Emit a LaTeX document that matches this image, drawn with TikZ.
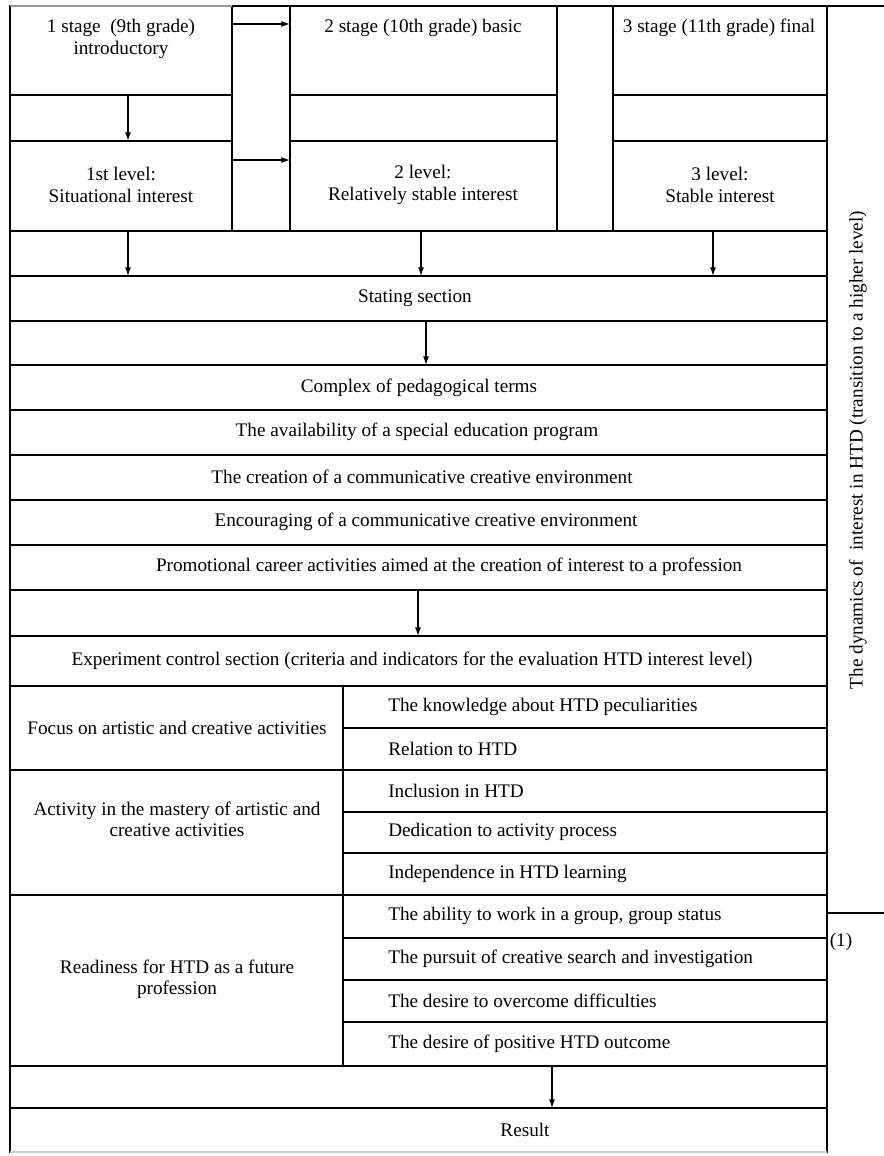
\documentclass[tikz,border=0pt]{standalone}
\usepackage{fontspec}
\setmainfont{Liberation Serif}
\usetikzlibrary{arrows.meta}
\newcommand\mkcell[5]{%
  \pgfmathsetmacro\cw{(#4-#2)*0.75}%
  \pgfmathsetmacro\chh{(#5-#3)*0.75}%
  \node[cellst,minimum width=\cw pt,minimum height=\chh pt] (#1) at ({(#2+#4)/2},{(#3+#5)/2}) {};}
\begin{document}
\begin{tikzpicture}[x=0.75pt,y=-0.75pt,
  cellst/.style={draw=black,line width=1.1pt,inner sep=0pt,outer sep=0pt,rectangle},
  txt/.style={inner sep=0pt,font=\fontsize{14.4}{15.9}\selectfont,align=center},
  ltxt/.style={inner sep=0pt,font=\fontsize{14.4}{15.9}\selectfont,anchor=west},
  arr/.style={line width=0.9pt,-{Latex[length=6.5pt,width=4.5pt]}}]
\useasboundingbox (0,0) rectangle (884,1156);
% top block
\mkcell{sA}{10}{6}{232}{95}
\mkcell{eA}{10}{95}{232}{141}
\mkcell{lA}{10}{141}{232}{231}
\mkcell{gA}{232}{6}{290}{231}
\mkcell{sB}{290}{6}{557}{95}
\mkcell{eB}{290}{95}{557}{141}
\mkcell{lB}{290}{141}{557}{231}
\mkcell{gB}{557}{6}{613}{231}
\mkcell{sC}{613}{6}{827}{95}
\mkcell{eC}{613}{95}{827}{141}
\mkcell{lC}{613}{141}{827}{231}
% full rows
\mkcell{r1}{10}{231}{827}{276}
\mkcell{r2}{10}{276}{827}{321}
\mkcell{r3}{10}{321}{827}{365}
\mkcell{r4}{10}{365}{827}{410}
\mkcell{r5}{10}{410}{827}{455}
\mkcell{r6}{10}{455}{827}{500}
\mkcell{r7}{10}{500}{827}{545}
\mkcell{r8}{10}{545}{827}{590}
\mkcell{r9}{10}{590}{827}{636}
\mkcell{r10}{10}{636}{827}{686}
% lower block
\mkcell{L1}{10}{686}{343}{770}
\mkcell{L2}{10}{770}{343}{895}
\mkcell{L3}{10}{895}{343}{1066}
\mkcell{R1}{343}{686}{827}{728}
\mkcell{R2}{343}{728}{827}{770}
\mkcell{R3}{343}{770}{827}{812}
\mkcell{R4}{343}{812}{827}{853}
\mkcell{R5}{343}{853}{827}{895}
\mkcell{R6}{343}{895}{827}{938}
\mkcell{R7}{343}{938}{827}{980}
\mkcell{R8}{343}{980}{827}{1022}
\mkcell{R9}{343}{1022}{827}{1066}
\mkcell{r11}{10}{1066}{827}{1108}
\mkcell{r12}{10}{1108}{827}{1152}
% outer right lines
\coordinate (topR) at (884,6);
\coordinate (midR) at (884,913);
\draw[line width=1.1pt] (sC.north east) -- (topR);
\draw[line width=1.1pt] (R6.east |- midR) -- (midR);
\draw[line width=1.1pt,gray!80] (sA.north west) -- (sA.north east);
\draw[line width=1.1pt,gray!40] (r12.south west) -- (r12.south east);
% texts
\node[txt] (tsA) at (121,39) {1 stage\ \ (9th grade)\\introductory};
\node[txt] (tsB) at (423,28) {2 stage (10th grade) basic};
\node[txt] (tsC) at (719,28) {3 stage (11th grade) final};
\node[txt] (tlA) at (121,185) {1st level:\\Situational interest};
\node[txt] (tlB) at (423,185) {2 level:\\Relatively stable interest};
\node[txt] (tlC) at (720,185) {3 level:\\Stable interest};
\node[txt] (t2) at (415,298) {Stating section};
\node[txt] (t4) at (419,388) {Complex of pedagogical terms};
\node[txt] (t5) at (417,432) {The availability of a special education program};
\node[txt] (t6) at (422,477) {The creation of a communicative creative environment};
\node[txt] (t7) at (426,522) {Encouraging of a communicative creative environment};
\node[txt] (t8) at (449,567) {Promotional career activities aimed at the creation of interest to a profession};
\node[txt] (t10) at (412,661) {Experiment control section (criteria and indicators for the evaluation HTD interest level)};
\node[txt] (tL1) at (177,728) {Focus on artistic and creative activities};
\node[txt] (tL2) at (177,819) {Activity in the mastery of artistic and\\creative activities};
\node[txt] (tL3) at (177,979) {Readiness for HTD as a future\\profession};
\node[ltxt] (tR1) at (388,707) {The knowledge about HTD peculiarities};
\node[ltxt] (tR2) at (388,749) {Relation to HTD};
\node[ltxt] (tR3) at (388,791) {Inclusion in HTD};
\node[ltxt] (tR4) at (388,832) {Dedication to activity process};
\node[ltxt] (tR5) at (388,874) {Independence in HTD learning};
\node[ltxt] (tR6) at (388,916) {The ability to work in a group, group status};
\node[ltxt] (tR7) at (388,959) {The pursuit of creative search and investigation};
\node[ltxt] (tR8) at (388,1001) {The desire to overcome difficulties};
\node[ltxt] (tR9) at (388,1044) {The desire of positive HTD outcome};
\node[txt] (t12) at (525,1130) {Result};
\node[txt,rotate=90] (tdyn) at (858,450) {The dynamics of\ \ interest in HTD (transition to a higher level)};
\node[txt] (tone) at (841,942) {(1)};
% arrows
\draw[arr] (sA.south -| 128,0) -- (lA.north -| 128,0);
\draw[arr] (gA.west |- 0,24) -- (sB.west |- 0,24);
\draw[arr] (gA.west |- 0,160) -- (lB.west |- 0,160);
\draw[arr] (r1.north -| 128,0) -- (r2.north -| 128,0);
\draw[arr] (r1.north -| 421,0) -- (r2.north -| 421,0);
\draw[arr] (r1.north -| 713,0) -- (r2.north -| 713,0);
\draw[arr] (r3.north -| 426,0) -- (r4.north -| 426,0);
\draw[arr] (r9.north -| 418,0) -- (r10.north -| 418,0);
\draw[arr] (r11.north -| 552,0) -- (r12.north -| 552,0);
\end{tikzpicture}
\end{document}
